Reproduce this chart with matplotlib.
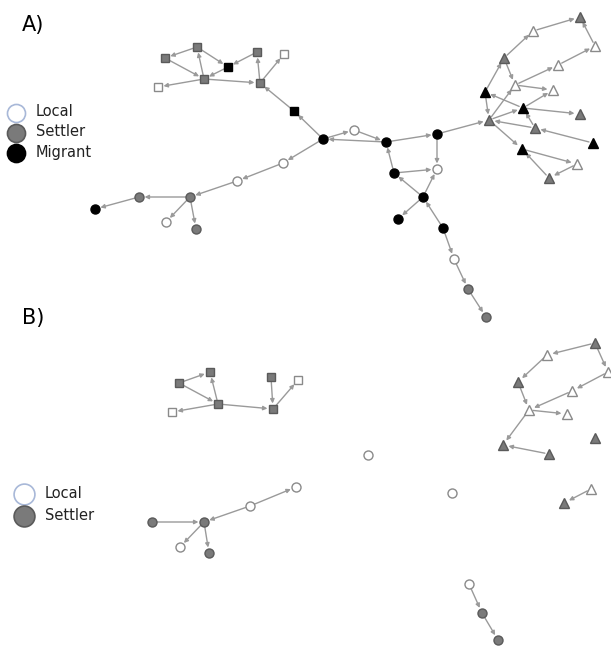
import matplotlib.pyplot as plt

# node data: name -> (x, y, group, shape)   (pixel layout of the diagram)
node_names = ['s1', 's2', 's3', 's4', 's5', 's6', 's7', 's8', 's9',
              'c1', 'c2', 'c3', 'c4', 'c5', 'c6', 'c7', 'm1',
              'm2', 'm3', 'm4', 'm5', 'm6', 'm7', 'm8', 'm9', 'm10', 'm11', 'm12',
              't1', 't2', 't3', 't4', 't5', 't6', 't7', 't8', 't9', 't10',
              't11', 't12', 't13', 't14', 't15', 't16',
              'b1', 'b2', 'b3', 'b4', 'b5', 'b6', 'b7',
              'd1', 'd2', 'd3', 'd4', 'd5', 'd6',
              'i1', 'i2', 'e1', 'e2', 'e3',
              'u1', 'u2', 'u3', 'u4', 'u5', 'u6', 'u7', 'u8', 'u9', 'u10', 'u11', 'u12']
node_x = [165, 197, 228, 257, 284, 158, 204, 260, 294,
          95, 139, 190, 166, 196, 237, 283, 323,
          354, 386, 437, 394, 437, 423, 398, 443, 454, 468, 486,
          580, 533, 595, 504, 558, 515, 553, 485, 523, 580,
          489, 535, 593, 522, 577, 549,
          179, 210, 172, 218, 271, 298, 273,
          152, 204, 180, 209, 250, 296,
          368, 452, 469, 482, 498,
          595, 547, 608, 518, 572, 529, 567, 595, 503, 549, 591, 564]
node_y = [58, 47, 67, 52, 54, 87, 79, 83, 111,
          209, 197, 197, 222, 229, 181, 163, 139,
          130, 142, 134, 173, 169, 197, 219, 228, 259, 289, 317,
          17, 31, 46, 58, 65, 85, 90, 92, 108, 114,
          120, 128, 143, 149, 164, 178,
          383, 372, 412, 404, 377, 380, 409,
          522, 522, 547, 553, 506, 487,
          455, 493, 584, 613, 640,
          343, 355, 372, 382, 391, 410, 414, 438, 445, 454, 489, 503]
node_group = ['S', 'S', 'M', 'S', 'L', 'L', 'S', 'S', 'M',
              'M', 'S', 'S', 'L', 'S', 'L', 'L', 'M',
              'L', 'M', 'M', 'M', 'L', 'M', 'M', 'M', 'L', 'S', 'S',
              'S', 'L', 'L', 'S', 'L', 'L', 'L', 'M', 'M', 'S',
              'S', 'S', 'M', 'M', 'L', 'S',
              'S', 'S', 'L', 'S', 'S', 'L', 'S',
              'S', 'S', 'L', 'S', 'L', 'L',
              'L', 'L', 'L', 'S', 'S',
              'S', 'L', 'L', 'S', 'L', 'L', 'L', 'S', 'S', 'S', 'L', 'S']
node_shape = (['s'] * 9 + ['o'] * 19 + ['^'] * 16 + ['s'] * 7
              + ['o'] * 11 + ['^'] * 12)

edges_a = [('s2', 's1'), ('s7', 's2'), ('s1', 's7'), ('s2', 's3'), ('s3', 's7'),
           ('s4', 's3'), ('s8', 's4'), ('s7', 's8'), ('s8', 's5'), ('s7', 's6'),
           ('s9', 's8'), ('m1', 's9'),
           ('c2', 'c1'), ('c3', 'c2'), ('c3', 'c4'), ('c3', 'c5'), ('c6', 'c3'),
           ('c7', 'c6'), ('m1', 'c7'),
           ('m1', 'm2'), ('m2', 'm3'), ('m3', 'm1'), ('m3', 'm4'), ('m5', 'm3'),
           ('m4', 'm6'), ('m5', 'm6'), ('m7', 'm5'), ('m7', 'm6'), ('m7', 'm8'),
           ('m9', 'm7'), ('m9', 'm10'), ('m10', 'm11'), ('m11', 'm12'),
           ('m4', 't11'),
           ('t2', 't1'), ('t4', 't2'), ('t3', 't1'), ('t5', 't3'), ('t6', 't5'),
           ('t4', 't6'), ('t8', 't4'), ('t6', 't7'), ('t11', 't6'), ('t8', 't11'),
           ('t9', 't8'), ('t9', 't7'), ('t9', 't10'), ('t11', 't9'), ('t12', 't9'),
           ('t12', 't11'), ('t13', 't12'), ('t11', 't14'), ('t14', 't15'),
           ('t16', 't14'), ('t15', 't16')]
edges_b = [('b1', 'b2'), ('b4', 'b2'), ('b1', 'b4'), ('b4', 'b3'), ('b4', 'b7'),
           ('b5', 'b7'), ('b7', 'b6'),
           ('d1', 'd2'), ('d2', 'd3'), ('d2', 'd4'), ('d5', 'd2'), ('d5', 'd6'),
           ('e1', 'e2'), ('e2', 'e3'),
           ('u1', 'u2'), ('u2', 'u4'), ('u1', 'u3'), ('u3', 'u5'), ('u5', 'u6'),
           ('u4', 'u6'), ('u6', 'u7'), ('u6', 'u9'), ('u10', 'u9'), ('u11', 'u12')]

fill = {'L': 'white', 'S': '#7a7a7a', 'M': 'black'}
edge = {'L': '#8a8a8a', 'S': '#5a5a5a', 'M': 'black'}
pos = {n: (x, y) for n, x, y in zip(node_names, node_x, node_y)}

fig = plt.figure(figsize=(6.11, 6.49), dpi=100)
ax = fig.add_axes([0, 0, 1, 1])
ax.set_xlim(0, 611)
ax.set_ylim(649, 0)
ax.axis('off')

for a, b in edges_a + edges_b:
    ax.annotate('', xy=pos[b], xytext=pos[a],
                arrowprops=dict(arrowstyle='-|>', color='#9a9a9a', lw=1.0,
                                mutation_scale=6, shrinkA=3, shrinkB=4))

for n, x, y, g, s in zip(node_names, node_x, node_y, node_group, node_shape):
    ms = 6.5 if s == 'o' else 6.2
    if s == '^':
        ms = 7
    ax.plot(x, y, marker=s, ms=ms, mfc=fill[g], mec=edge[g], mew=1.0, zorder=3)

# legends
for y, g, lab in [(113, 'L', 'Local'), (133, 'S', 'Settler'), (153, 'M', 'Migrant')]:
    ec = '#a8b8d8' if g == 'L' else edge[g]
    ax.plot(16, y, 'o', ms=13, mfc=fill[g], mec=ec, mew=1.2)
    ax.text(36, y - 1, lab, fontsize=10.5, va='center', color='#222222')
for y, g, lab in [(494, 'L', 'Local'), (516, 'S', 'Settler')]:
    ec = '#a8b8d8' if g == 'L' else edge[g]
    ax.plot(24, y, 'o', ms=15, mfc=fill[g], mec=ec, mew=1.2)
    ax.text(45, y - 1, lab, fontsize=10.5, va='center', color='#222222')

ax.text(22, 25, 'A)', fontsize=15, va='center', ha='left')
ax.text(22, 318, 'B)', fontsize=15, va='center', ha='left')

fig.savefig('out.png', dpi=100)
